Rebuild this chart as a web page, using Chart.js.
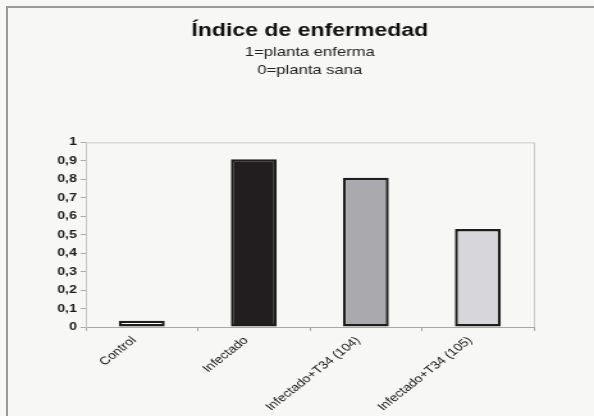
<!DOCTYPE html>
<html>
<head>
<meta charset="utf-8">
<script src="https://cdn.jsdelivr.net/npm/chart.js@4/dist/chart.umd.min.js"></script>
<style>
  html, body { margin: 0; padding: 0; background: #f7f7f5; }
  #wrap { position: relative; width: 594px; height: 416px; overflow: hidden; }
  #c { position: absolute; left: 0; top: 0; width: 594px; height: 416px; }
  #frame { position: absolute; left: 6px; top: 6px; width: 600px; height: 420px;
           border-left: 2px solid #9a9a9e; border-top: 2px solid #9a9a9e; }
</style>
</head>
<body>
<div id="wrap">
  <canvas id="c" width="464" height="416"></canvas>
  <div id="frame"></div>
</div>
<script>
// data
const categories = ['Control', 'Infectado', 'Infectado+T34 (104)', 'Infectado+T34 (105)'];
const indexValues = [0.034, 0.908, 0.808, 0.53];
const barColors = ['#fbfbfb', '#221e1f', '#aaa9ae', '#d7d6da'];
const yTickLabels = ['0', '0,1', '0,2', '0,3', '0,4', '0,5', '0,6', '0,7', '0,8', '0,9', '1'];

const titleText = 'Índice de enfermedad';
const subtitleLines = ['1=planta enferma', '0=planta sana'];

// the scanned chart is stretched sideways, so the canvas is drawn narrow and widened by css
const FONT = "'Liberation Sans', Arial, sans-serif";

const plotFrame = {
  id: 'plotFrame',
  beforeDraw(chart) {
    const ctx = chart.ctx;
    ctx.save();
    ctx.fillStyle = '#f7f7f5';
    ctx.fillRect(0, 0, chart.width, chart.height);
    ctx.restore();
  },
  afterDatasetsDraw(chart) {
    const a = chart.chartArea;
    const ctx = chart.ctx;
    ctx.save();
    ctx.strokeStyle = '#cacaca';
    ctx.lineWidth = 1;
    ctx.beginPath();
    ctx.moveTo(a.left, a.top + 0.5);
    ctx.lineTo(a.right + 0.5, a.top + 0.5);
    ctx.lineTo(a.right + 0.5, a.bottom);
    ctx.stroke();
    ctx.restore();
  }
};

const chart = new Chart(document.getElementById('c'), {
  type: 'bar',
  data: {
    labels: categories,
    datasets: [{
      data: indexValues,
      backgroundColor: barColors,
      borderColor: '#1e1e1e',
      borderWidth: 2.4,
      borderSkipped: false,
      barPercentage: 0.41,
      categoryPercentage: 1
    }]
  },
  options: {
    responsive: false,
    animation: false,
    devicePixelRatio: 1,
    layout: { padding: { left: 0, right: 47, top: 0, bottom: 0 } },
    plugins: {
      legend: { display: false },
      tooltip: { enabled: false },
      title: {
        display: true,
        text: titleText,
        fullSize: false,
        color: '#111',
        font: { family: FONT, size: 18, weight: 'bold', lineHeight: 1.2 },
        padding: { top: 20, bottom: 1 }
      },
      subtitle: {
        display: true,
        text: subtitleLines,
        fullSize: false,
        color: '#222',
        font: { family: FONT, size: 13, lineHeight: 1.45 },
        padding: { top: 0, bottom: 62 }
      }
    },
    scales: {
      x: {
        grid: { display: true, drawOnChartArea: false, offset: true, tickLength: 4, color: '#a8a8a8' },
        border: { display: true, color: '#a8a8a8', width: 1 },
        ticks: {
          color: '#111',
          font: { family: FONT, size: 11 },
          minRotation: 45,
          maxRotation: 45,
          autoSkip: false,
          padding: 3,
          labelOffset: -6
        },
        afterFit(scale) { scale.height = 89; }
      },
      y: {
        min: 0,
        max: 1,
        grid: { display: true, drawOnChartArea: false, tickLength: 4, color: '#a8a8a8' },
        border: { display: true, color: '#c4c4c4', width: 1 },
        ticks: {
          stepSize: 0.1,
          color: '#1a1a1a',
          font: { family: FONT, size: 11, weight: 'bold' },
          padding: 3,
          callback: (v, i) => yTickLabels[i]
        },
        afterFit(scale) { scale.width = 67; }
      }
    }
  },
  plugins: [plotFrame]
});

chart.canvas.style.width = '594px';
chart.canvas.style.height = '416px';
</script>
</body>
</html>
